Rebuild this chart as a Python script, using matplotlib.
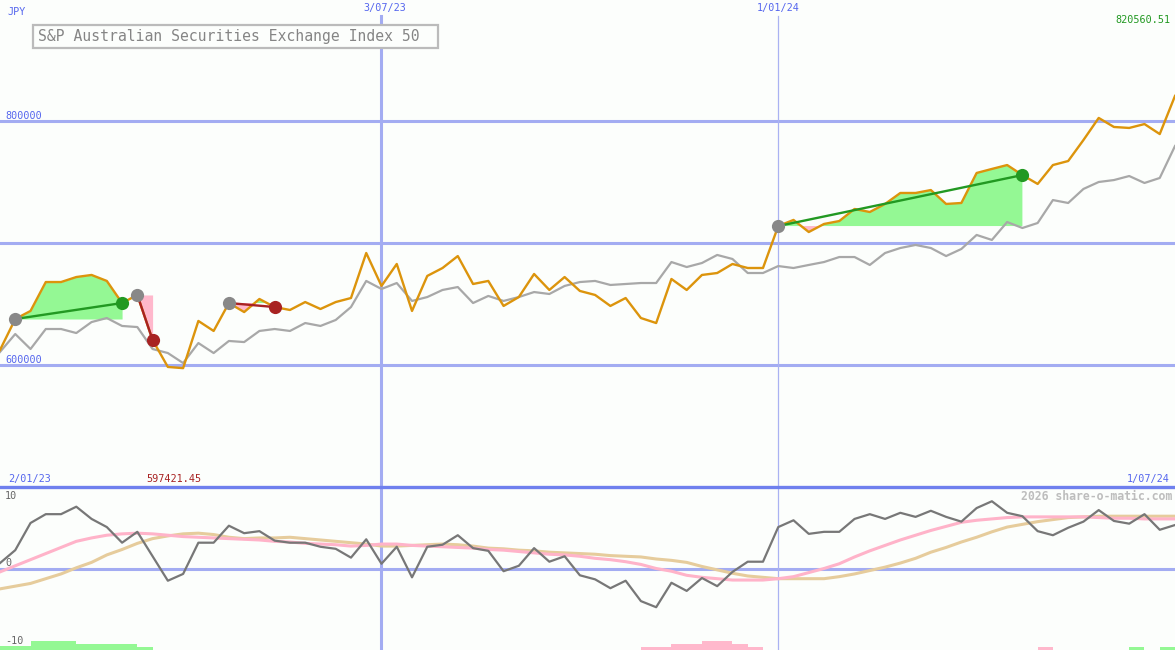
import matplotlib
matplotlib.use("Agg")
import matplotlib.pyplot as plt
from matplotlib.patches import Rectangle
import numpy as np

W, H = 1175, 650

title = "S&P Australian Securities Exchange Index 50"
currency = "JPY"

# weekly closing price (JPY)
price = [612300, 637700, 644300, 668000, 668000, 672100, 673800, 668900, 650800, 657400,
         620500, 598400, 597421.45, 636100, 627900, 650800, 643400, 654100, 647500, 645100,
         651600, 645900, 651600, 654900, 691800, 664800, 682800, 644300, 673000, 679500,
         689300, 666400, 668900, 648400, 655700, 674600, 661500, 672100, 660700, 657400,
         648400, 654900, 638500, 634400, 670500, 661500, 673800, 675400, 682800, 679500,
         679500, 713900, 718900, 709000, 715600, 718000, 727900, 725400, 732000, 741000,
         741000, 743400, 732000, 732800, 757400, 760700, 763900, 755700, 748400, 763900,
         767200, 784400, 802500, 795100, 794300, 797500, 789300, 820560.51]

# moving average (grey)
avg = [610700, 625400, 613100, 629500, 629500, 626200, 635200, 638500, 632000, 631100,
       613100, 609800, 601600, 618000, 609800, 619700, 618800, 627900, 629500, 627900,
       634400, 632000, 636900, 647500, 668900, 662300, 667200, 652500, 655700, 661500,
       663900, 650800, 656600, 652500, 655700, 659800, 658200, 664800, 668000, 668900,
       665600, 666400, 667200, 667200, 684400, 680300, 683600, 690200, 686900, 675400,
       675400, 681100, 679500, 682000, 684400, 688500, 688500, 682000, 691800, 695900,
       698400, 695900, 689300, 695100, 706600, 702500, 717200, 712300, 716400, 735200,
       732800, 744300, 750000, 751600, 754900, 749200, 753300, 779500]

# oscillator (lower panel)
osc = [0.8, 2.7, 6.7, 8.0, 8.0, 9.1, 7.3, 6.1, 3.8, 5.4,
       1.8, -1.8, -0.8, 3.8, 3.8, 6.3, 5.2, 5.5, 4.1, 3.8,
       3.8, 3.2, 2.9, 1.6, 4.3, 0.7, 3.2, -1.3, 3.2, 3.5,
       4.9, 3.0, 2.6, -0.4, 0.4, 3.0, 1.0, 1.8, -1.0, -1.6,
       -2.9, -1.8, -4.8, -5.7, -2.1, -3.3, -1.4, -2.6, -0.5, 1.0,
       1.0, 6.1, 7.1, 5.1, 5.4, 5.4, 7.3, 8.0, 7.3, 8.2,
       7.6, 8.5, 7.6, 6.9, 8.9, 9.9, 8.2, 7.7, 5.5, 4.9,
       6.0, 6.9, 8.6, 7.0, 6.6, 8.0, 5.7, 6.4]

sig_fast = [-0.5, 0.4, 1.3, 2.2, 3.1, 4.0, 4.5, 4.9, 5.1, 5.2,
            5.1, 4.9, 4.7, 4.6, 4.5, 4.4, 4.3, 4.2, 4.0, 3.9,
            3.7, 3.6, 3.5, 3.3, 3.4, 3.6, 3.6, 3.4, 3.3, 3.2,
            3.1, 3.0, 2.8, 2.7, 2.5, 2.3, 2.1, 2.0, 1.8, 1.5,
            1.3, 1.0, 0.6, 0.0, -0.4, -1.0, -1.3, -1.5, -1.7, -1.7,
            -1.7, -1.5, -1.2, -0.6, 0.0, 0.7, 1.7, 2.6, 3.4, 4.2,
            4.9, 5.6, 6.2, 6.8, 7.1, 7.3, 7.5, 7.6, 7.6, 7.6,
            7.6, 7.6, 7.5, 7.4, 7.4, 7.3, 7.3, 7.3]

sig_slow = [-3.0, -2.6, -2.2, -1.5, -0.8, 0.1, 0.9, 2.0, 2.8, 3.7,
            4.4, 4.8, 5.1, 5.2, 5.0, 4.6, 4.4, 4.5, 4.5, 4.6,
            4.4, 4.2, 4.0, 3.8, 3.6, 3.3, 3.3, 3.4, 3.5, 3.6,
            3.5, 3.3, 3.0, 2.9, 2.7, 2.6, 2.4, 2.3, 2.2, 2.1,
            1.9, 1.8, 1.7, 1.4, 1.2, 0.9, 0.3, -0.2, -0.7, -1.1,
            -1.3, -1.5, -1.5, -1.5, -1.5, -1.2, -0.8, -0.3, 0.2, 0.8,
            1.5, 2.4, 3.1, 3.9, 4.6, 5.4, 6.1, 6.5, 6.9, 7.2,
            7.5, 7.6, 7.7, 7.7, 7.7, 7.7, 7.7, 7.7]

# signal bars (positive = green, negative = pink)
bars = [0.6, 0.6, 1.3, 1.3, 1.3, 0.9, 0.9, 0.9, 0.9, 0.45,
        0, 0, 0, 0, 0, 0, 0, 0, 0, 0,
        0, 0, 0, 0, 0, 0, 0, 0, 0, 0,
        0, 0, 0, 0, 0, 0, 0, 0, 0, 0,
        0, 0, -0.45, -0.45, -0.9, -0.9, -1.3, -1.3, -0.9, -0.45,
        0, 0, 0, 0, 0, 0, 0, 0, 0, 0,
        0, 0, 0, 0, 0, 0, 0, 0, -0.45, 0,
        0, 0, 0, 0, 0.45, 0, 0.45, 0]

# trades: (start index, end index)
trades = [(1, 8), (9, 10), (15, 18), (51, 67)]

price_ticks = [600000, 800000]
price_tick_labels = ["600000", "800000"]
price_grid = [600000, 700000, 800000]
osc_ticks = [10, 0, -10]
date_marks = [25, 51]
date_labels = ["3/07/23", "1/01/24"]
start_label, end_label = "2/01/23", "1/07/24"
max_label, min_label = "820560.51", "597421.45"
credit = "2026 share-o-matic.com"

BG = "#fcfefc"
BLUE_TXT = "#5566ee"
GRID = "#a3acf2"
ORANGE = "#dc940c"
GREY = "#a8a8a8"
FILL_G = "#94f894"
FILL_P = "#ffb8cc"
DGREEN = "#229922"
DRED = "#a82222"
MONO = "DejaVu Sans Mono"

fig = plt.figure(figsize=(W / 100, H / 100), dpi=100, facecolor=BG)
split = 163 / H
ax = fig.add_axes([0, split, 1, 1 - split])
ax2 = fig.add_axes([0, 0, 1, split])
for a in (ax, ax2):
    a.set_axis_off()
    a.set_xlim(0, len(price) - 1)

ax.set_ylim(500000, 899180)
ax2.set_ylim(-12, 12)

x = np.arange(len(price))
p = np.array(price, dtype=float)
g = np.array(avg, dtype=float)

# grids
for v in price_grid:
    ax.axhline(v, color=GRID, lw=2.2, zorder=1)
ax2.axhline(0, color=GRID, lw=2.2, zorder=1)
ax2.axhline(12, color="#6f80ee", lw=2.4, zorder=5, clip_on=False)
top_frac = (487 - 16) / 487
ax.axvline(date_marks[0], ymin=0, ymax=top_frac, color=GRID, lw=2.2, zorder=1)
ax.axvline(date_marks[1], ymin=0, ymax=top_frac, color="#aab2f2", lw=0.9, zorder=1)
ax2.axvline(date_marks[0], color=GRID, lw=2.2, zorder=1)
ax2.axvline(date_marks[1], color="#aab2f2", lw=0.9, zorder=1)

# trade fills
for s, e in trades:
    xs = x[s:e + 1]
    ys = p[s:e + 1]
    base = p[s]
    ax.fill_between(xs, ys, base, where=ys >= base, interpolate=True,
                    color=FILL_G, lw=0, zorder=2)
    ax.fill_between(xs, ys, base, where=ys <= base, interpolate=True,
                    color=FILL_P, lw=0, zorder=2)

ax.plot(x, g, color=GREY, lw=1.6, zorder=3)
ax.plot(x, p, color=ORANGE, lw=1.7, zorder=4)

for s, e in trades:
    col = DGREEN if p[e] > p[s] else DRED
    ax.plot([s, e], [p[s], p[e]], color=col, lw=1.7, zorder=5)
    ax.plot([s], [p[s]], "o", ms=9.5, color="#888888", mec="none", zorder=6)
    ax.plot([e], [p[e]], "o", ms=9.5, color=col, mec="none", zorder=6)

# lower panel
b = np.array(bars)
ax2.bar(x[b > 0], b[b > 0], width=1, align="edge", bottom=-12, color=FILL_G, lw=0, zorder=2)
ax2.bar(x[b < 0], -b[b < 0], width=1, align="edge", bottom=-12, color=FILL_P, lw=0, zorder=2)
ax2.plot(x, sig_slow, color="#e6cc9c", lw=2.2, zorder=3)
ax2.plot(x, sig_fast, color="#ffb3c9", lw=2.2, zorder=3)
ax2.plot(x, osc, color="#777777", lw=1.6, zorder=4)


def ftxt(px, py, s, **kw):
    kw.setdefault("family", MONO)
    kw.setdefault("fontsize", 7.3)
    kw.setdefault("va", "center")
    fig.text(px / W, 1 - py / H, s, **kw)


# texts
ftxt(7, 12, currency, color=BLUE_TXT)
ftxt(385, 8, date_labels[0], color=BLUE_TXT, ha="center")
ftxt(778, 8, date_labels[1], color=BLUE_TXT, ha="center")
for v, lab in zip(price_ticks, price_tick_labels):
    ypix = 487 - (v - 500000) / (899180 - 500000) * 487
    ftxt(5, ypix - 5, lab, color=BLUE_TXT)
ftxt(1170, 20, max_label, color=DGREEN, ha="right")
ftxt(8, 479, start_label, color=BLUE_TXT)
ftxt(146, 479, min_label, color=DRED)
ftxt(1170, 479, end_label, color=BLUE_TXT, ha="right")
ftxt(1172, 496, credit, color="#bdbdbd", ha="right", fontsize=8.3, fontweight="bold")
for v in osc_ticks:
    ypix = 568.5 - v * 6.79
    if v == -10:
        ypix = 641
    else:
        ypix -= 5
    ftxt(5, ypix, str(v), color="#666666")

fig.patches.append(Rectangle((33 / W, 1 - 48 / H), 405 / W, 23 / H,
                             transform=fig.transFigure, fc=BG, ec="#bbbbbb", lw=1.6,
                             zorder=10))
ftxt(38, 36.5, title, color="#858585", fontsize=10.6, zorder=11)

fig.savefig("out.png", dpi=100, facecolor=BG)
